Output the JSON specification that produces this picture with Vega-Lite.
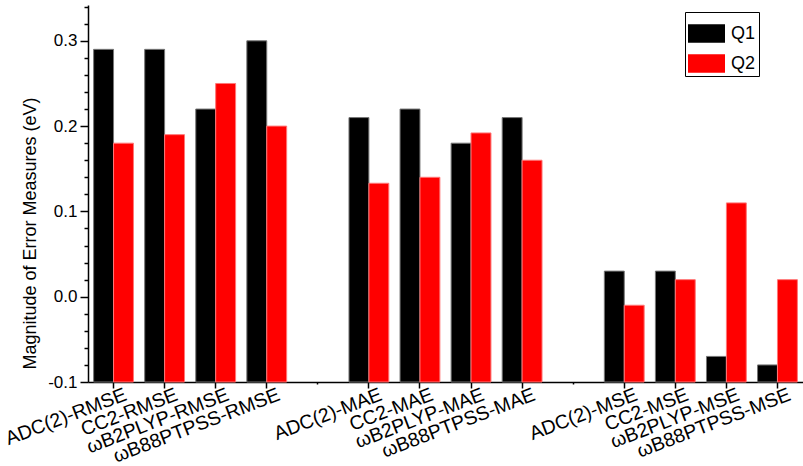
{
  "$schema": "https://vega.github.io/schema/vega-lite/v6.json",
  "width": 715,
  "height": 377,
  "autosize": {"type": "none"},
  "padding": {"left": 88, "top": 5, "right": 0, "bottom": 84},
  "background": "white",
  "config": {
    "view": {"stroke": null},
    "font": "Liberation Sans",
    "axis": {"labelFont": "Liberation Sans", "titleFont": "Liberation Sans", "labelColor": "#000", "titleColor": "#000", "domainColor": "#000", "tickColor": "#000"},
    "legend": {"labelFont": "Liberation Sans"}
  },
  "data": {
    "values": [
      {"method": "ADC(2)-RMSE", "series": "Q1", "value": 0.29},
      {"method": "ADC(2)-RMSE", "series": "Q2", "value": 0.18},
      {"method": "CC2-RMSE", "series": "Q1", "value": 0.29},
      {"method": "CC2-RMSE", "series": "Q2", "value": 0.19},
      {"method": "ωB2PLYP-RMSE", "series": "Q1", "value": 0.22},
      {"method": "ωB2PLYP-RMSE", "series": "Q2", "value": 0.25},
      {"method": "ωB88PTPSS-RMSE", "series": "Q1", "value": 0.30},
      {"method": "ωB88PTPSS-RMSE", "series": "Q2", "value": 0.20},
      {"method": "ADC(2)-MAE", "series": "Q1", "value": 0.21},
      {"method": "ADC(2)-MAE", "series": "Q2", "value": 0.133},
      {"method": "CC2-MAE", "series": "Q1", "value": 0.22},
      {"method": "CC2-MAE", "series": "Q2", "value": 0.14},
      {"method": "ωB2PLYP-MAE", "series": "Q1", "value": 0.18},
      {"method": "ωB2PLYP-MAE", "series": "Q2", "value": 0.192},
      {"method": "ωB88PTPSS-MAE", "series": "Q1", "value": 0.21},
      {"method": "ωB88PTPSS-MAE", "series": "Q2", "value": 0.16},
      {"method": "ADC(2)-MSE", "series": "Q1", "value": 0.03},
      {"method": "ADC(2)-MSE", "series": "Q2", "value": -0.01},
      {"method": "CC2-MSE", "series": "Q1", "value": 0.03},
      {"method": "CC2-MSE", "series": "Q2", "value": 0.02},
      {"method": "ωB2PLYP-MSE", "series": "Q1", "value": -0.07},
      {"method": "ωB2PLYP-MSE", "series": "Q2", "value": 0.11},
      {"method": "ωB88PTPSS-MSE", "series": "Q1", "value": -0.08},
      {"method": "ωB88PTPSS-MSE", "series": "Q2", "value": 0.02}
    ]
  },
  "encoding": {
    "x": {
      "field": "method",
      "type": "nominal",
      "sort": null,
      "scale": {
        "domain": ["ADC(2)-RMSE", "CC2-RMSE", "ωB2PLYP-RMSE", "ωB88PTPSS-RMSE", "gap1", "ADC(2)-MAE", "CC2-MAE", "ωB2PLYP-MAE", "ωB88PTPSS-MAE", "gap2", "ADC(2)-MSE", "CC2-MSE", "ωB2PLYP-MSE", "ωB88PTPSS-MSE"],
        "paddingInner": 0.22,
        "paddingOuter": 0.11
      },
      "axis": {
        "title": null,
        "labelAngle": -21,
        "labelAlign": "right",
        "labelBaseline": "top",
        "labelFontSize": 19.5,
        "labelPadding": -3,
        "labelOffset": 9,
        "labelExpr": "(datum.value == 'gap1' || datum.value == 'gap2') ? '' : datum.value",
        "tickSize": {"condition": {"test": "datum.value == 'gap1' || datum.value == 'gap2'", "value": 2}, "value": 6},
        "tickWidth": 1.5,
        "domainWidth": 1.5,
        "labelOverlap": false,
        "labelBound": false
      }
    },
    "xOffset": {"field": "series", "type": "nominal", "scale": {"paddingInner": 0, "paddingOuter": 0}},
    "color": {
      "field": "series",
      "type": "nominal",
      "scale": {"domain": ["Q1", "Q2"], "range": ["#000000", "#ff0000"]},
      "legend": {
        "title": null,
        "orient": "none",
        "legendX": 597,
        "legendY": 7,
        "padding": 3,
        "strokeColor": "#000",
        "fillColor": "#fff",
        "symbolType": "M-1,-0.5H1V0.5H-1Z",
        "symbolSize": 1369,
        "symbolStrokeWidth": 0,
        "symbolOpacity": 1,
        "labelFontSize": 18,
        "labelColor": "#000",
        "labelOffset": 6,
        "rowPadding": 2
      }
    }
  },
  "layer": [
    {
      "mark": {"type": "bar", "strokeWidth": 1},
      "encoding": {
        "y": {
          "field": "value",
          "type": "quantitative",
          "scale": {"domain": [-0.1, 0.342], "nice": false, "zero": false},
          "axis": {
            "title": "Magnitude of Error Measures (eV)",
            "titleFontSize": 18,
            "titleFontWeight": "normal",
            "titleAngle": -90,
            "titleAlign": "center",
            "titleBaseline": "middle",
            "titleX": -58,
            "titleY": 228,
            "values": [-0.1, 0, 0.1, 0.2, 0.3],
            "labelExpr": "datum.value < 0 ? '-' + format(-datum.value, '.1f') : format(datum.value, '.1f')",
            "labelFontSize": 17,
            "labelPadding": 3,
            "tickSize": 8,
            "tickWidth": 1.5,
            "domainWidth": 1.5,
            "grid": false
          }
        },
        "y2": {"datum": -0.1},
        "stroke": {
          "field": "series",
          "type": "nominal",
          "scale": {"domain": ["Q1", "Q2"], "range": ["#777777", "#ff7777"]},
          "legend": null
        }
      }
    },
    {
      "mark": {"type": "bar", "opacity": 0},
      "encoding": {
        "y": {
          "field": "value",
          "type": "quantitative",
          "scale": {"domain": [-0.1, 0.342], "nice": false, "zero": false},
          "axis": {
            "orient": "left",
            "title": null,
            "labels": false,
            "domain": false,
            "grid": false,
            "values": [-0.08, -0.06, -0.04, -0.02, 0.02, 0.04, 0.06, 0.08, 0.12, 0.14, 0.16, 0.18, 0.22, 0.24, 0.26, 0.28, 0.32, 0.34],
            "tickSize": 4,
            "tickWidth": 1.5
          }
        },
        "y2": {"datum": -0.1}
      }
    }
  ],
  "resolve": {"axis": {"y": "independent"}}
}
